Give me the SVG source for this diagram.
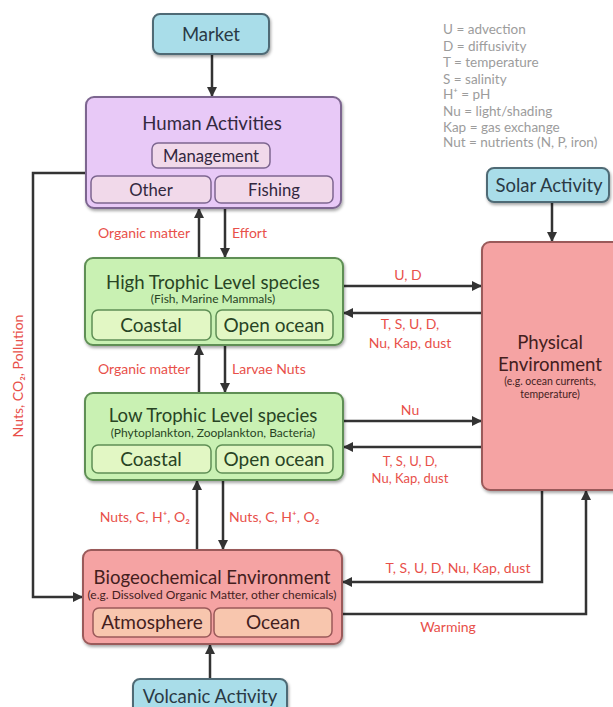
<svg xmlns="http://www.w3.org/2000/svg" width="613" height="707" viewBox="0 0 613 707">
<style>
text{font-family:Lato,"Open Sans","Liberation Sans",sans-serif}
.blue{fill:#a9dde9;stroke:#4f6b75;stroke-width:2}
.purple{fill:#e8c9f7;stroke:#7d6690;stroke-width:2}
.pin{fill:#f1d9ea;stroke:#7d6690;stroke-width:1.5}
.green{fill:#c9f1b3;stroke:#5f8f55;stroke-width:2}
.gin{fill:#e2f7c4;stroke:#5f8f55;stroke-width:1.5}
.red{fill:#f5a3a3;stroke:#9a5a5a;stroke-width:2}
.rin{fill:#f8c6ae;stroke:#9a5a5a;stroke-width:1.5}
.t{text-anchor:middle}
.tb{fill:#2a3a45;font-size:18.5px}
.tp{fill:#33283f}
.tg{fill:#284424}
.tr{fill:#441e1e}
.h{font-size:18.6px}
.s{font-size:16.7px}
.i{font-size:19px}
.sub{font-size:12px}
.psub{font-size:10.5px}
.lbl{fill:#e8504a;font-size:14px}
.lbs{font-size:13px}
.leg{fill:#9c9c9c;font-size:13.5px}
.c{fill:none;stroke:#333;stroke-width:2.5;marker-end:url(#ah)}
</style>
<defs>
<marker id="ah" viewBox="0 0 10 10" refX="9" refY="5" markerWidth="4" markerHeight="4" orient="auto" markerUnits="strokeWidth">
<path d="M0,0 L10,5 L0,10 z" fill="#333"/>
</marker>
<filter id="sh" x="-10%" y="-10%" width="125%" height="130%">
<feDropShadow dx="1" dy="2" stdDeviation="1.5" flood-color="#000" flood-opacity="0.35"/>
</filter>
</defs>

<g id="legend">
<text class="leg" x="443" y="34">U = advection</text>
<text class="leg" x="443" y="51">D = diffusivity</text>
<text class="leg" x="443" y="67">T = temperature</text>
<text class="leg" x="443" y="84">S = salinity</text>
<text class="leg" x="443" y="99">H⁺ = pH</text>
<text class="leg" x="443" y="116">Nu = light/shading</text>
<text class="leg" x="443" y="132">Kap = gas exchange</text>
<text class="leg" x="443" y="147">Nut = nutrients (N, P, iron)</text>
</g>

<g id="connectors">
<line class="c" x1="212" y1="54" x2="212" y2="96"/>
<line class="c" x1="199" y1="258" x2="199" y2="209"/>
<line class="c" x1="225" y1="208" x2="225" y2="257"/>
<line class="c" x1="199" y1="393" x2="199" y2="346"/>
<line class="c" x1="225" y1="345" x2="225" y2="392"/>
<line class="c" x1="197" y1="550" x2="197" y2="481"/>
<line class="c" x1="223" y1="480" x2="223" y2="549"/>
<line class="c" x1="210" y1="679" x2="210" y2="645"/>
<line class="c" x1="552" y1="202" x2="552" y2="241"/>
<line class="c" x1="343" y1="286" x2="481" y2="286"/>
<line class="c" x1="482" y1="313" x2="344" y2="313"/>
<line class="c" x1="343" y1="421" x2="481" y2="421"/>
<line class="c" x1="482" y1="447" x2="344" y2="447"/>
<path class="c" d="M542,490 V582 H343"/>
<path class="c" d="M342,614 H586 V491"/>
<path class="c" d="M86,173 H33 V597 H82"/>
</g>

<g id="labels">
<text class="lbl" x="190" y="238" text-anchor="end">Organic matter</text>
<text class="lbl" x="232" y="238">Effort</text>
<text class="lbl" x="190" y="374" text-anchor="end">Organic matter</text>
<text class="lbl" x="232" y="374">Larvae Nuts</text>
<text class="lbl" x="190" y="522" text-anchor="end">Nuts, C, H⁺, O₂</text>
<text class="lbl" x="229" y="522">Nuts, C, H⁺, O₂</text>
<text class="lbl t" x="408" y="280">U, D</text>
<text class="lbl t" x="410" y="329">T, S, U, D,</text>
<text class="lbl t" x="410" y="348">Nu, Kap, dust</text>
<text class="lbl t" x="410" y="415">Nu</text>
<text class="lbl lbs t" x="410" y="466">T, S, U, D,</text>
<text class="lbl lbs t" x="410" y="483">Nu, Kap, dust</text>
<text class="lbl t" x="458" y="573">T, S, U, D,  Nu, Kap, dust</text>
<text class="lbl t" x="448" y="632">Warming</text>
<text class="lbl t" transform="translate(23,376) rotate(-90)">Nuts, CO₂, Pollution</text>
</g>

<g id="market">
<rect class="blue" x="153" y="14" width="116" height="40" rx="7" filter="url(#sh)"/>
<text class="t tb" x="211" y="40.5">Market</text>
</g>

<g id="solar">
<rect class="blue" x="487" y="168" width="122" height="34" rx="7" filter="url(#sh)"/>
<text class="t tb" x="549" y="191.5">Solar Activity</text>
</g>

<g id="volcanic">
<rect class="blue" x="133" y="679" width="154" height="40" rx="7" filter="url(#sh)"/>
<text class="t tb" x="210" y="703">Volcanic Activity</text>
</g>

<g id="human">
<rect class="purple" x="86" y="97" width="255" height="111" rx="8" filter="url(#sh)"/>
<text class="t tp h" x="212" y="129.5">Human Activities</text>
<rect class="pin" x="152" y="143" width="118" height="25" rx="6"/>
<text class="t tp s" x="211" y="161.5">Management</text>
<rect class="pin" x="91" y="176" width="120" height="27" rx="6"/>
<text class="t tp s" x="151" y="195.5">Other</text>
<rect class="pin" x="215" y="176" width="118" height="27" rx="6"/>
<text class="t tp s" x="274" y="195.5">Fishing</text>
</g>

<g id="htl">
<rect class="green" x="85" y="258" width="258" height="87" rx="8" filter="url(#sh)"/>
<text class="t tg h" x="213" y="288.5">High Trophic Level species</text>
<text class="t tg sub" x="213" y="303">(Fish, Marine Mammals)</text>
<rect class="gin" x="92" y="310" width="119" height="30" rx="6"/>
<text class="t tg i" x="151" y="331.5">Coastal</text>
<rect class="gin" x="216" y="310" width="117" height="30" rx="6"/>
<text class="t tg i" x="274" y="331.5">Open ocean</text>
</g>

<g id="ltl">
<rect class="green" x="85" y="393" width="258" height="87" rx="8" filter="url(#sh)"/>
<text class="t tg h" x="213" y="421.5">Low Trophic Level species</text>
<text class="t tg sub" x="213" y="437">(Phytoplankton, Zooplankton, Bacteria)</text>
<rect class="gin" x="92" y="445" width="119" height="28" rx="6"/>
<text class="t tg i" x="151" y="465.5">Coastal</text>
<rect class="gin" x="216" y="445" width="117" height="28" rx="6"/>
<text class="t tg i" x="274" y="465.5">Open ocean</text>
</g>

<g id="physical">
<rect class="red" x="482" y="242" width="140" height="248" rx="8" filter="url(#sh)"/>
<text class="t tr h" x="550" y="348.5">Physical</text>
<text class="t tr h" x="550" y="370.5">Environment</text>
<text class="t tr psub" x="550" y="385">(e.g. ocean currents,</text>
<text class="t tr psub" x="550" y="398">temperature)</text>
</g>

<g id="biogeo">
<rect class="red" x="83" y="550" width="259" height="94" rx="8" filter="url(#sh)"/>
<text class="t tr h" x="212" y="583.5">Biogeochemical Environment</text>
<text class="t tr sub" x="212" y="599">(e.g. Dissolved Organic Matter, other chemicals)</text>
<rect class="rin" x="93" y="608" width="118" height="29" rx="6"/>
<text class="t tr i" x="152" y="629">Atmosphere</text>
<rect class="rin" x="214" y="608" width="118" height="29" rx="6"/>
<text class="t tr i" x="273" y="629">Ocean</text>
</g>
</svg>
